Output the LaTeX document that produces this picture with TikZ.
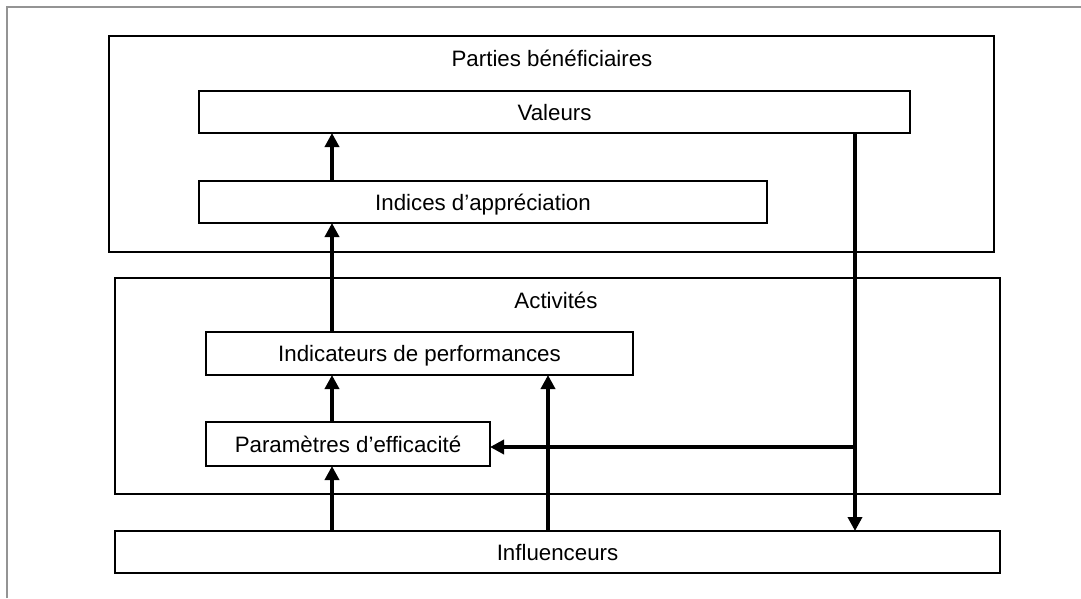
\documentclass[tikz,border=0pt]{standalone}
\usepackage{fontspec}
\setmainfont{Liberation Sans}
\usetikzlibrary{arrows.meta,positioning}
\tikzset{
  box/.style={draw=black, line width=2pt, inner sep=0pt, outer sep=0pt, fill=none},
  lbl/.style={inner sep=0pt, text height=16pt, text depth=0pt, font=\fontsize{22.3}{26}\selectfont},
  flow/.style={line width=3.5pt, -{Triangle[length=14pt,width=14pt]}},
  frame/.style={draw=black!42, line width=2.2pt}
}
\begin{document}
\begin{tikzpicture}[x=1pt,y=-1pt]
\useasboundingbox (0,0) rectangle (1081,598);
\draw[frame] (7,598) -- (7,7) -- (1081,7);
% containers
\node[box, minimum width=885pt, minimum height=216pt] (parties) at (551.5,144) {};
\node[lbl] (partiesl) at (552,58) {Parties bénéficiaires};
\node[box, minimum width=885pt, minimum height=216pt] (activites) at (557.5,386) {};
\node[lbl] (activitesl) at (556,300) {Activités};
% inner boxes
\node[box, lbl, minimum width=711pt, minimum height=42pt] (valeurs) at (554.5,112) {Valeurs};
\node[box, lbl, minimum width=568pt, minimum height=42pt] (indices) at (483,202) {Indices d’appréciation};
\node[box, lbl, minimum width=427pt, minimum height=43pt] (indic) at (419.5,353.5) {Indicateurs de performances};
\node[box, lbl, minimum width=284pt, minimum height=44pt] (param) at (348,444) {Paramètres d’efficacité};
\node[box, lbl, minimum width=885pt, minimum height=42pt] (infl) at (557.5,552) {Influenceurs};
% connectors
\draw[flow] (indices.north -| 332,0) -- (valeurs.south -| 332,0);
\draw[flow] (indic.north -| 332,0) -- (indices.south -| 332,0);
\draw[flow] (param.north -| 332,0) -- (indic.south -| 332,0);
\draw[flow] (infl.north -| 332,0) -- (param.south -| 332,0);
\draw[flow] (infl.north -| 548,0) -- (indic.south -| 548,0);
\draw[flow] (valeurs.south -| 855,0) -- (infl.north -| 855,0);
\coordinate (split) at (855,447);
\draw[flow] (split) -- (split -| param.east);
\end{tikzpicture}
\end{document}
